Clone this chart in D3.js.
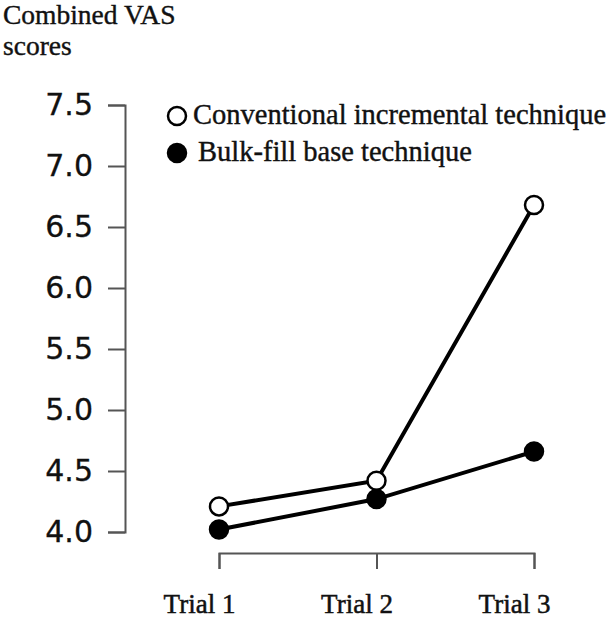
<!DOCTYPE html>
<html>
<head>
<meta charset="utf-8">
<script src="https://cdn.jsdelivr.net/npm/d3@7"></script>
<style>
  body { margin: 0; background: #fff; }
  svg { display: block; }
</style>
</head>
<body>
<svg id="chart" width="610" height="620"></svg>
<script>
// Data ----------------------------------------------------------
const trials = ["Trial 1", "Trial 2", "Trial 3"];
const conventional = [4.21, 4.42, 6.68];
const bulkFill = [4.02, 4.27, 4.66];
const yTicks = [4.0, 4.5, 5.0, 5.5, 6.0, 6.5, 7.0, 7.5];
const seriesNames = ["Conventional incremental technique", "Bulk-fill base technique"];
// ---------------------------------------------------------------

const svg = d3.select("#chart");
const serif = "'Liberation Serif', 'Times New Roman', serif";

const x = d3.scalePoint().domain(trials).range([219, 534]);
const y = d3.scaleLinear().domain([4, 7.5]).range([532, 105]);

// Y axis
const yAxis = svg.append("g")
    .attr("transform", "translate(125,0)")
    .call(d3.axisLeft(y)
        .tickValues(yTicks)
        .tickFormat(d3.format(".1f"))
        .tickSize(17)
        .tickPadding(15));
yAxis.selectAll("path, line").attr("stroke", "#555").attr("stroke-width", 2);
yAxis.selectAll("text")
    .attr("font-family", "'DejaVu Sans', sans-serif")
    .attr("font-size", 30)
    .attr("fill", "#111")
    .attr("stroke", "#111")
    .attr("stroke-width", 0.3);

// X axis
const xAxis = svg.append("g")
    .attr("transform", "translate(0,553)")
    .call(d3.axisBottom(x).tickSize(16).tickSizeOuter(16));
xAxis.selectAll("path, line").attr("stroke", "#555").attr("stroke-width", 2);
xAxis.selectAll("text")
    .attr("x", -20)
    .attr("y", 60)
    .attr("dy", 0)
    .attr("font-family", serif)
    .attr("font-size", 27)
    .attr("fill", "#111")
    .attr("stroke", "#111")
    .attr("stroke-width", 0.5);

// Titel osi
svg.append("text")
    .attr("x", 3).attr("y", 24)
    .attr("font-family", serif).attr("font-size", 27.5).attr("fill", "#111")
    .attr("stroke", "#111").attr("stroke-width", 0.4)
    .text("Combined VAS");
svg.append("text")
    .attr("x", 3).attr("y", 55)
    .attr("font-family", serif).attr("font-size", 27.5).attr("fill", "#111")
    .attr("stroke", "#111").attr("stroke-width", 0.4)
    .text("scores");

// Lines and markers
const line = d3.line()
    .x((d, i) => x(trials[i]))
    .y(d => y(d));

const series = [
    { values: conventional, fill: "#fff" },
    { values: bulkFill, fill: "#000" }
];

series.forEach(s => {
    svg.append("path")
        .datum(s.values)
        .attr("d", line)
        .attr("fill", "none")
        .attr("stroke", "#000")
        .attr("stroke-width", 4);
});

// bulk-fill markers drawn last so they sit on top at trial 2
series.forEach(s => {
    svg.selectAll(null)
        .data(s.values)
        .join("circle")
        .attr("cx", (d, i) => x(trials[i]))
        .attr("cy", d => y(d))
        .attr("r", 9)
        .attr("fill", s.fill)
        .attr("stroke", "#000")
        .attr("stroke-width", 2.5);
});

// Legend
const legend = svg.append("g");
[116, 153].forEach((ly, i) => {
    legend.append("circle")
        .attr("cx", 177).attr("cy", ly)
        .attr("r", 9)
        .attr("fill", series[i].fill)
        .attr("stroke", "#000")
        .attr("stroke-width", 2.5);
    legend.append("text")
        .attr("x", i === 0 ? 193 : 198)
        .attr("y", ly + 8)
        .attr("font-family", serif)
        .attr("font-size", 28.5)
        .attr("fill", "#111")
        .attr("stroke", "#111")
        .attr("stroke-width", 0.4)
        .text(seriesNames[i]);
});
</script>
</body>
</html>
